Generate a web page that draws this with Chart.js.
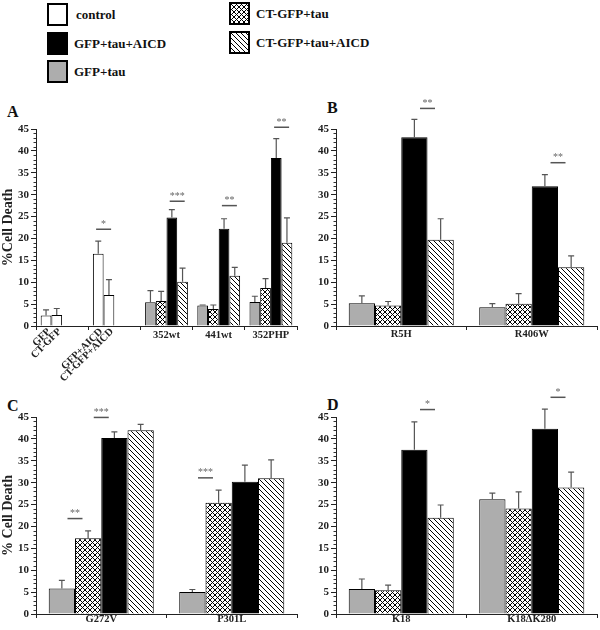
<!DOCTYPE html>
<html>
<head>
<meta charset="utf-8">
<script src="https://cdn.jsdelivr.net/npm/chart.js@4.4.0/dist/chart.umd.min.js"></script>
<style>
  body { margin: 0; background: #fff; }
  #wrap { position: relative; width: 600px; height: 630px; font-family: "Liberation Serif", "Times New Roman", serif; color: #111; }
  .sw { position: absolute; }
  .lg { position: absolute; font-weight: bold; font-size: 13px; line-height: 23px; white-space: nowrap; }
  .letter { position: absolute; font-weight: bold; font-size: 16px; line-height: 1; }
  canvas.panel { position: absolute; }
</style>
</head>
<body>
<div id="wrap">
  <canvas class="sw" id="swControl" width="21" height="23" style="left:47px;top:3px"></canvas>
  <div class="lg" style="left:76px;top:3px">control</div>
  <canvas class="sw" id="swBlack" width="21" height="23" style="left:47px;top:32px"></canvas>
  <div class="lg" style="left:74px;top:32px">GFP+tau+AICD</div>
  <canvas class="sw" id="swGray" width="21" height="23" style="left:47px;top:60px"></canvas>
  <div class="lg" style="left:74px;top:60px">GFP+tau</div>
  <canvas class="sw" id="swCross" width="21" height="23" style="left:229px;top:2px"></canvas>
  <div class="lg" style="left:256px;top:2px">CT-GFP+tau</div>
  <canvas class="sw" id="swHatch" width="21" height="23" style="left:229px;top:31px"></canvas>
  <div class="lg" style="left:256px;top:31px">CT-GFP+tau+AICD</div>

  <div class="letter" style="left:7px;top:104px">A</div>
  <div class="letter" style="left:327px;top:100px">B</div>
  <div class="letter" style="left:7px;top:398px">C</div>
  <div class="letter" style="left:327px;top:397px">D</div>

  <canvas class="panel" id="chartA" width="300" height="290" style="left:0;top:92px"></canvas>
  <canvas class="panel" id="chartB" width="300" height="258" style="left:300px;top:92px"></canvas>
  <canvas class="panel" id="chartC" width="300" height="250" style="left:0;top:380px"></canvas>
  <canvas class="panel" id="chartD" width="300" height="250" style="left:300px;top:380px"></canvas>
</div>
<script>
// ===== DATA =====
// bar order in every group: GFP+tau, CT-GFP+tau, GFP+tau+AICD, CT-GFP+tau+AICD
// panel A: first two groups hold the control bars (GFP / CT-GFP, GFP+AICD / CT-GFP+AICD)
const aLabels = ["GFP / CT-GFP", "GFP+AICD / CT-GFP+AICD", "352wt", "441wt", "352PHP"];
const aBarLabels = [["GFP", "CT-GFP"], ["GFP+AICD", "CT-GFP+AICD"]];
const aGfpTau = [2.4, 16.5, 5.4, 4.7, 5.5];
const aCtGfpTau = [2.5, 7.1, 5.7, 3.9, 8.7];
const aGfpTauAicd = [null, null, 24.8, 22.2, 38.4];
const aCtGfpTauAicd = [null, null, 10.1, 11.5, 19.0];
const aGfpTauErr = [1.3, 2.9, 2.7, 0.1, 1.3];
const aCtGfpTauErr = [1.5, 3.5, 2.2, 0.9, 2.1];
const aGfpTauAicdErr = [null, null, 1.8, 2.3, 4.4];
const aCtGfpTauAicdErr = [null, null, 3.1, 1.9, 5.7];
// [group, left bar of the pair, y value of line, stars]
const aSig = [[1, 0, 22.1, "*"], [2, 2, 28.5, "***"], [3, 2, 27.5, "**"], [4, 2, 45.4, "**"]];

const bLabels = ["R5H", "R406W"];
const bGfpTau = [5.2, 4.3];
const bCtGfpTau = [4.7, 5.1];
const bGfpTauAicd = [43.1, 31.9];
const bCtGfpTauAicd = [19.7, 13.4];
const bGfpTauErr = [1.7, 0.8];
const bCtGfpTauErr = [0.9, 2.3];
const bGfpTauAicdErr = [4.1, 2.7];
const bCtGfpTauAicdErr = [4.8, 2.6];
const bSig = [[0, 2, 49.7, "**"], [1, 2, 37.3, "**"]];

const cLabels = ["G272V", "P301L"];
const cGfpTau = [5.8, 5.0];
const cCtGfpTau = [17.3, 25.4];
const cGfpTauAicd = [40.2, 30.2];
const cCtGfpTauAicd = [42.0, 31.0];
const cGfpTauErr = [1.9, 0.6];
const cCtGfpTauErr = [1.7, 2.9];
const cGfpTauAicdErr = [1.4, 3.8];
const cCtGfpTauAicdErr = [1.3, 4.2];
const cSig = [[0, 0, 21.8, "**"], [0, 1, 44.9, "***"], [1, 0, 31.1, "***"]];

const dLabels = ["K18", "K18\u0394K280"];
const dGfpTau = [5.7, 26.2];
const dCtGfpTau = [5.4, 24.1];
const dGfpTauAicd = [37.5, 42.3];
const dCtGfpTauAicd = [22.0, 28.9];
const dGfpTauErr = [2.3, 1.4];
const dCtGfpTauErr = [1.2, 3.8];
const dGfpTauAicdErr = [6.4, 4.5];
const dCtGfpTauAicdErr = [2.9, 3.5];
const dSig = [[0, 2, 46.7, "*"], [1, 2, 49.5, "*"]];

const seriesNames = ["GFP+tau", "CT-GFP+tau", "GFP+tau+AICD", "CT-GFP+tau+AICD"];

// ===== FILLS =====
const GRAY = "#adadad";
function makePattern(kind) {
  let c = document.createElement("canvas");
  c.width = c.height = 10;
  let g = c.getContext("2d");
  g.fillStyle = "#fff";
  g.fillRect(0, 0, 10, 10);
  g.strokeStyle = "#000";
  g.lineWidth = 1;
  g.beginPath();
  for (let o = -10; o <= 10; o += 5) {
    g.moveTo(o, 0); g.lineTo(o + 10, 10);
    if (kind === "cross") { g.moveTo(o, 10); g.lineTo(o + 10, 0); }
  }
  g.stroke();
  return g.createPattern(c, "repeat");
}
const CROSS = makePattern("cross");
const HATCH = makePattern("hatch");
const fills = [GRAY, CROSS, "#000", HATCH];

// ===== LEGEND SWATCHES =====
function swatch(id, fill) {
  let g = document.getElementById(id).getContext("2d");
  g.fillStyle = fill;
  g.fillRect(0, 0, 21, 23);
  g.strokeStyle = "#000";
  g.lineWidth = 2;
  g.strokeRect(1, 1, 19, 21);
}
swatch("swControl", "#fff");
swatch("swBlack", "#000");
swatch("swGray", GRAY);
swatch("swCross", CROSS);
swatch("swHatch", HATCH);

// ===== PLUGINS =====
const errorBars = {
  id: "errorBars",
  afterDatasetsDraw(chart) {
    let ctx = chart.ctx, y = chart.scales.y;
    ctx.save();
    ctx.strokeStyle = "#555";
    ctx.lineWidth = 1.2;
    chart.data.datasets.forEach((ds, i) => {
      chart.getDatasetMeta(i).data.forEach((bar, j) => {
        let v = ds.data[j], e = ds.errors[j];
        if (v == null || e == null) return;
        let top = y.getPixelForValue(v + e);
        ctx.beginPath();
        ctx.moveTo(bar.x, bar.y);
        ctx.lineTo(bar.x, top);
        ctx.moveTo(bar.x - 3, top);
        ctx.lineTo(bar.x + 3, top);
        ctx.stroke();
      });
    });
    ctx.restore();
  }
};

const minorTicks = {
  id: "minorTicks",
  afterDraw(chart) {
    let ctx = chart.ctx, y = chart.scales.y, left = chart.chartArea.left;
    ctx.save();
    ctx.strokeStyle = "#333";
    ctx.lineWidth = 1;
    for (let v = 0; v <= 45; v++) {
      if (v % 5 === 0) continue;
      let py = Math.round(y.getPixelForValue(v)) + 0.5;
      ctx.beginPath();
      ctx.moveTo(left - 2.5, py);
      ctx.lineTo(left, py);
      ctx.stroke();
    }
    ctx.restore();
  }
};

function sigPlugin(sig) {
  return {
    id: "sigMarks",
    afterDraw(chart) {
      let ctx = chart.ctx, y = chart.scales.y;
      ctx.save();
      ctx.strokeStyle = "#555";
      ctx.fillStyle = "#666";
      ctx.lineWidth = 1.5;
      ctx.font = "10px 'Liberation Serif'";
      ctx.textAlign = "center";
      ctx.textBaseline = "middle";
      sig.forEach(([grp, k, val, stars]) => {
        let b1 = chart.getDatasetMeta(k).data[grp];
        let b2 = chart.getDatasetMeta(k + 1).data[grp];
        let cx = (b1.x + b2.x) / 2;
        let py = y.getPixelForValue(val);
        ctx.beginPath();
        ctx.moveTo(cx - 7.5, py);
        ctx.lineTo(cx + 7.5, py);
        ctx.stroke();
        ctx.fillText(stars, cx, py - 5);
      });
      ctx.restore();
    }
  };
}

// slanted per-bar labels under the two control groups of panel A
const rotatedLabels = {
  id: "rotatedLabels",
  afterDraw(chart) {
    let ctx = chart.ctx, bottom = chart.chartArea.bottom;
    ctx.save();
    ctx.font = "bold 10.5px 'Liberation Serif'";
    ctx.fillStyle = "#222";
    ctx.textAlign = "right";
    ctx.textBaseline = "middle";
    aBarLabels.forEach((pair, c) => {
      pair.forEach((txt, k) => {
        let bar = chart.getDatasetMeta(k).data[c];
        ctx.save();
        ctx.translate(bar.x + 3, bottom + 4);
        ctx.rotate(-Math.PI / 4);
        ctx.fillText(txt, 0, 0);
        ctx.restore();
      });
    });
    ctx.restore();
  }
};

// ===== BUILD =====
Chart.defaults.font.family = "'Liberation Serif', 'Times New Roman', serif";
Chart.defaults.color = "#222";

function makePanel(id, labels, values, errors, colors, sig, opt) {
  let datasets = values.map((v, i) => ({
    label: seriesNames[i],
    data: v,
    errors: errors[i],
    backgroundColor: colors[i],
    borderColor: "#000",
    borderWidth: 1,
    categoryPercentage: opt.catPct,
    barPercentage: 1
  }));
  let plugins = [errorBars, minorTicks, sigPlugin(sig)];
  if (opt.rotated) plugins.push(rotatedLabels);

  new Chart(document.getElementById(id), {
    type: "bar",
    data: { labels: labels, datasets: datasets },
    options: {
      responsive: false,
      animation: false,
      layout: { padding: { top: 37, right: 3, bottom: 0, left: 0 } },
      plugins: { legend: { display: false }, tooltip: { enabled: false } },
      scales: {
        x: {
          offset: true,
          grid: { drawOnChartArea: false, tickLength: 4, tickColor: "#222", offset: true },
          border: { color: "#222" },
          ticks: {
            autoSkip: false, maxRotation: 0, padding: opt.xPad,
            font: { size: 10.5, weight: "bold" },
            callback: (v, i) => opt.rotated && i < 2 ? "" : labels[i]
          },
          afterFit: s => { s.height = opt.xHeight; }
        },
        y: {
          min: 0, max: 45,
          ticks: {
            stepSize: 1, autoSkip: false, padding: 2,
            font: { size: 11, weight: "bold" },
            callback: v => v % 5 === 0 ? v : ""
          },
          grid: {
            drawOnChartArea: false, tickLength: 5,
            tickColor: ctx => (ctx.tick && ctx.tick.value % 5 === 0) ? "#222" : "rgba(0,0,0,0)"
          },
          border: { color: "#222" },
          title: opt.title
            ? { display: true, text: opt.title, font: { size: 14, weight: "bold" }, padding: 0 }
            : { display: false },
          afterFit: s => { s.width = 36; }
        }
      }
    },
    plugins: plugins
  });
}

// panel A colours: control bars are white in the first two groups
const aFills = [
  ["#fff", "#fff", GRAY, GRAY, GRAY],
  ["#fff", "#fff", CROSS, CROSS, CROSS],
  "#000",
  HATCH
];

makePanel("chartA", aLabels,
  [aGfpTau, aCtGfpTau, aGfpTauAicd, aCtGfpTauAicd],
  [aGfpTauErr, aCtGfpTauErr, aGfpTauAicdErr, aCtGfpTauAicdErr],
  aFills, aSig,
  { catPct: 0.82, xHeight: 56, xPad: -1, title: "%Cell Death", rotated: true });

makePanel("chartB", bLabels,
  [bGfpTau, bCtGfpTau, bGfpTauAicd, bCtGfpTauAicd],
  [bGfpTauErr, bCtGfpTauErr, bGfpTauAicdErr, bCtGfpTauAicdErr],
  fills, bSig,
  { catPct: 0.805, xHeight: 24, xPad: -2 });

makePanel("chartC", cLabels,
  [cGfpTau, cCtGfpTau, cGfpTauAicd, cCtGfpTauAicd],
  [cGfpTauErr, cCtGfpTauErr, cGfpTauAicdErr, cCtGfpTauAicdErr],
  fills, cSig,
  { catPct: 0.805, xHeight: 16, xPad: -5, title: "% Cell Death" });

makePanel("chartD", dLabels,
  [dGfpTau, dCtGfpTau, dGfpTauAicd, dCtGfpTauAicd],
  [dGfpTauErr, dCtGfpTauErr, dGfpTauAicdErr, dCtGfpTauAicdErr],
  fills, dSig,
  { catPct: 0.805, xHeight: 16, xPad: -5 });
</script>
</body>
</html>
